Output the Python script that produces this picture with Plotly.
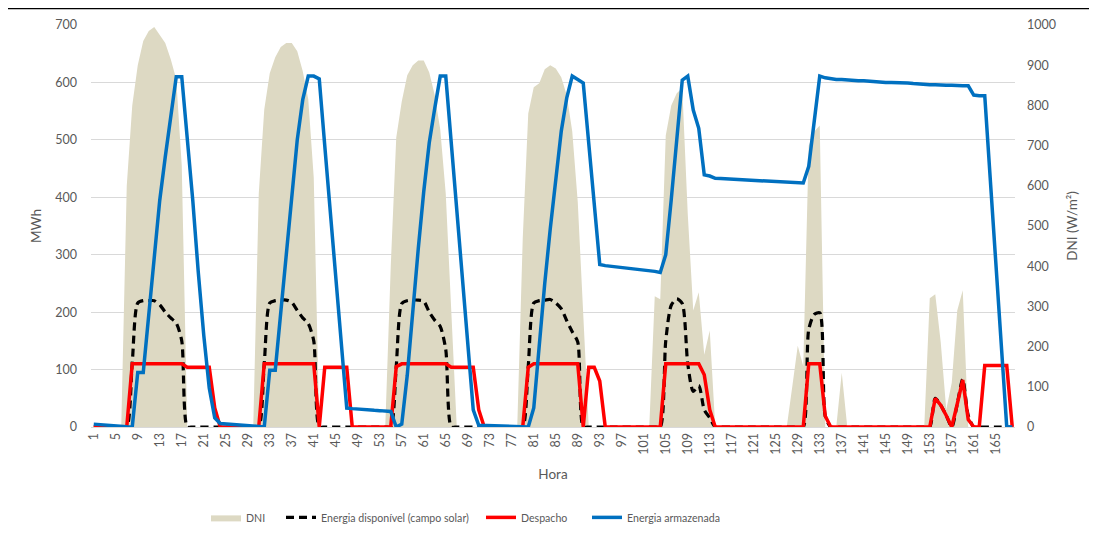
import plotly.graph_objects as go

hours = list(range(1, 169))
tick_hours = list(range(1, 169, 4))

dni = [
    0, 0, 0, 0, 0, 0, 600, 800, 900, 960, 985, 995, 975, 955, 915, 865, 650, 0, 0, 0, 0, 0, 0, 0,
    0, 0, 0, 0, 0, 0, 580, 790, 880, 920, 945, 955, 955, 935, 885, 815, 620, 0, 0, 0, 0, 0, 0, 0,
    0, 0, 0, 0, 0, 0, 400, 720, 810, 875, 900, 912, 912, 882, 825, 740, 580, 290, 0, 0, 0, 0, 0, 0,
    0, 0, 0, 0, 0, 0, 470, 780, 845, 855, 890, 900, 892, 870, 825, 735, 560, 280, 0, 0, 0, 0, 0, 0,
    0, 0, 0, 0, 0, 0, 325, 318, 725, 800, 830, 843, 530, 290, 335, 180, 240, 0, 0, 0, 0, 0, 0, 0,
    0, 0, 0, 0, 0, 0, 0, 100, 202, 151, 700, 735, 750, 0, 0, 0, 135, 0, 0, 0, 0, 0, 0, 0,
    0, 0, 0, 0, 0, 0, 0, 0, 320, 330, 210, 43, 110, 290, 340, 0, 0, 0, 0, 0, 0, 0, 0, 0,
]

energia_disponivel = [
    0, 0, 0, 0, 0, 0, 0, 112, 216, 220, 220, 220, 213, 200, 190, 181, 150, 0, 0, 0, 0, 0, 0, 0,
    0, 0, 0, 0, 0, 0, 0, 110, 216, 220, 221, 221, 217, 203, 190, 180, 150, 0, 0, 0, 0, 0, 0, 0,
    0, 0, 0, 0, 0, 0, 0, 106, 215, 220, 221, 221, 219, 200, 186, 175, 135, 0, 0, 0, 0, 0, 0, 0,
    0, 0, 0, 0, 0, 0, 0, 106, 216, 220, 221, 222, 216, 206, 185, 166, 148, 0, 0, 0, 0, 0, 0, 0,
    0, 0, 0, 0, 0, 0, 0, 0, 150, 212, 223, 215, 110, 62, 72, 30, 16, 0, 0, 0, 0, 0, 0, 0,
    0, 0, 0, 0, 0, 0, 0, 0, 0, 0, 170, 196, 199, 19, 0, 0, 0, 0, 0, 0, 0, 0, 0, 0,
    0, 0, 0, 0, 0, 0, 0, 0, 0, 50, 38, 20, 0, 40, 83, 20, 0, 0, 0, 0, 0, 0, 0, 0,
]

despacho = [
    0, 0, 0, 0, 0, 0, 0, 110, 110, 110, 110, 110, 110, 110, 110, 110, 110, 104, 104, 104, 104, 104, 33, 0,
    0, 0, 0, 0, 0, 0, 0, 110, 110, 110, 110, 110, 110, 110, 110, 110, 110, 0, 104, 104, 104, 104, 104, 0,
    0, 0, 0, 0, 0, 0, 0, 105, 110, 110, 110, 110, 110, 110, 110, 110, 110, 104, 104, 104, 104, 104, 30, 0,
    0, 0, 0, 0, 0, 0, 0, 104, 110, 110, 110, 110, 110, 110, 110, 110, 110, 0, 104, 104, 80, 0, 0, 0,
    0, 0, 0, 0, 0, 0, 0, 0, 110, 110, 110, 110, 110, 110, 110, 91, 30, 0, 0, 0, 0, 0, 0, 0,
    0, 0, 0, 0, 0, 0, 0, 0, 0, 0, 110, 110, 110, 19, 0, 0, 0, 0, 0, 0, 0, 0, 0, 0,
    0, 0, 0, 0, 0, 0, 0, 0, 0, 50, 38, 20, 0, 40, 82, 13, 0, 0, 107, 107, 107, 107, 107, 0,
]

energia_armazenada = [
    5, 4, 3, 2, 1.5, 1, 0.5, 0, 95, 95, 200, 300, 395, 470, 543, 610, 610, 505, 395, 270, 160, 68, 16, 6,
    5.5, 5, 4, 3, 2, 1.5, 1, 0, 99, 99, 200, 300, 400, 500, 570, 611, 611, 606, 490, 375, 260, 145, 33, 32,
    31, 30.5, 30, 29, 28.5, 28, 27, 0, 5, 90, 205, 310, 410, 495, 555, 611, 611, 495, 379, 263, 147, 30, 3, 2.5,
    2.2, 2, 1.7, 1.4, 1, 0.6, 0.3, 0, 33, 150, 250, 345, 437, 515, 573, 611, 605, 599, 494, 388, 283, 281, 280, 279,
    278, 277, 276, 275, 274, 272, 271, 269, 300, 396, 500, 604, 611, 552, 520, 439, 437, 433, 432.5, 432, 431.5, 431,
    430.5, 430, 429.5, 429, 428.5, 428, 427.5, 427, 426.5, 426, 425.5, 425, 454, 530, 611, 608, 606, 605, 605, 604,
    604, 603, 603, 602, 601, 601, 600, 600, 600, 599, 599, 598, 597, 597, 596, 596, 595, 595, 595, 594, 594, 594, 578, 577,
    577, 432, 288, 144, 0, 0,
]

TXT = "#595959"
GRID = "#D9D9D9"
FONT = "Lato, Carlito, Calibri, sans-serif"

# the page places the figure 8 px from the top-left corner of the window
OFF = 8
W, H = 1097 - OFF, 540 - OFF
L = 91 - OFF
T = 25 - OFF
PLOT_RIGHT = 1015 - OFF
PLOT_BOTTOM = 427.5 - OFF
R = W - PLOT_RIGHT
B = H - PLOT_BOTTOM
PW = W - L - R
PH = H - T - B


def px_x(px):
    """page x pixel -> paper coordinate"""
    return (px - OFF - L) / PW


def px_y(py):
    """page y pixel -> paper coordinate"""
    return (H - B - (py - OFF)) / PH


fig = go.Figure()

fig.add_trace(go.Scatter(
    x=hours, y=dni, name="DNI", mode="lines", fill="tozeroy",
    fillcolor="#DDD9C3", line=dict(width=0, color="#DDD9C3"),
    yaxis="y", legend="legend", hoverinfo="skip",
))
fig.add_trace(go.Scatter(
    x=hours, y=energia_disponivel, name="Energia disponível (campo solar)", mode="lines",
    line=dict(color="black", width=3.2, dash="8px,5px", shape="spline", smoothing=0.7),
    yaxis="y2", legend="legend2",
))
fig.add_trace(go.Scatter(
    x=hours, y=despacho, name="Despacho", mode="lines",
    line=dict(color="#FF0000", width=3.5),
    yaxis="y2", legend="legend3",
))
fig.add_trace(go.Scatter(
    x=hours, y=energia_armazenada, name="Energia armazenada", mode="lines",
    line=dict(color="#0070C0", width=3.5),
    yaxis="y2", legend="legend4",
))

legend_common = dict(
    orientation="h", xanchor="left", yanchor="middle", y=px_y(518),
    font=dict(family=FONT, size=10.6, color=TXT), bgcolor="rgba(0,0,0,0)",
    borderwidth=0,
)

fig.update_layout(
    width=W, height=H,
    margin=dict(l=L, r=R, t=T, b=B, autoexpand=False),
    paper_bgcolor="white", plot_bgcolor="white",
    font=dict(family=FONT, color=TXT),
    showlegend=True,
    legend=dict(legend_common, x=px_x(206)),
    legend2=dict(legend_common, x=px_x(281)),
    legend3=dict(legend_common, x=px_x(481)),
    legend4=dict(legend_common, x=px_x(587)),
    xaxis=dict(
        range=[0.5, 168.5], tickmode="array", tickvals=tick_hours,
        ticktext=[str(h) for h in tick_hours], tickangle=-90,
        showgrid=False, zeroline=False, showline=True, linecolor=GRID, linewidth=1,
        ticks="", tickfont=dict(family=FONT, size=12.5, color=TXT),
        title=dict(text="Hora", font=dict(family=FONT, size=13.5, color=TXT), standoff=15),
    ),
    yaxis=dict(
        side="right", range=[0, 1000], dtick=100, tick0=0,
        showgrid=False, zeroline=False, showline=False, ticks="",
        ticklabelstandoff=11,
        tickfont=dict(family=FONT, size=12.5, color=TXT),
        minor=dict(tickmode="array", tickvals=[k * 1000 / 7 for k in range(1, 8)],
                   showgrid=True, gridcolor=GRID, gridwidth=1, ticks=""),
        title=dict(text="DNI (W/m²)", font=dict(family=FONT, size=13.5, color=TXT), standoff=12),
    ),
    yaxis2=dict(
        overlaying="y", side="left", range=[0, 700], dtick=100, tick0=0,
        showgrid=False, zeroline=False, showline=False, ticks="",
        ticklabelstandoff=13,
        tickfont=dict(family=FONT, size=12.5, color=TXT),
        title=dict(text="MWh", font=dict(family=FONT, size=13.5, color=TXT), standoff=10),
    ),
    shapes=[dict(type="line", xref="paper", yref="paper",
                 x0=px_x(0), x1=px_x(1097), y0=px_y(8.6), y1=px_y(8.6),
                 line=dict(color="black", width=1.5))],
)

fig.write_html("out.html")
